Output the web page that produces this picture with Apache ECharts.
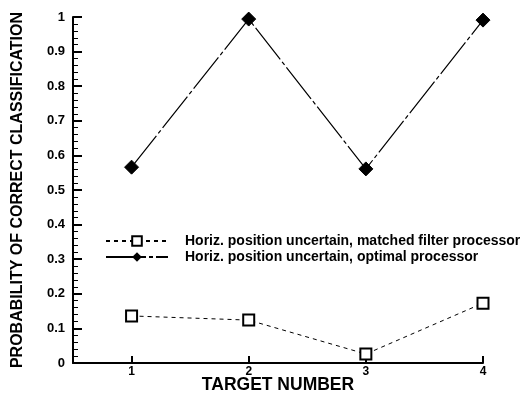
<!DOCTYPE html>
<html><head><meta charset="utf-8">
<script src="https://cdn.jsdelivr.net/npm/echarts@6/dist/echarts.min.js"></script>
<style>html,body{margin:0;padding:0;background:#fff}#c{width:521px;height:393px}</style>
</head><body><div id="c"></div>
<script>
var targets = [1, 2, 3, 4];
var matchedFilter = [0.136, 0.124, 0.026, 0.173];
var optimal = [0.566, 0.994, 0.561, 0.991];
var seriesNames = ['Horiz. position uncertain, matched filter processor', 'Horiz. position uncertain, optimal processor'];

function pairs(xs, ys){ return xs.map(function(x,i){return [x, ys[i]];}); }
var F = 'Liberation Sans, Arial, sans-serif';
var chart = echarts.init(document.getElementById('c'));
chart.setOption({
  animation:false,
  grid:{left:73, right:38, top:17, bottom:30, outerBoundsMode:'none'},
  xAxis:{
    type:'value', min:0.5, max:4,
    axisLine:{show:true, lineStyle:{color:'#000', width:2}},
    axisTick:{show:true, inside:true, length:7, lineStyle:{width:2, color:'#000'}, customValues:targets},
    axisLabel:{fontFamily:F, fontWeight:'bold', fontSize:12, color:'#000', margin:3, customValues:targets},
    splitLine:{show:false},
    name:'TARGET NUMBER', nameLocation:'middle', nameGap:13, nameMoveOverlap:false,
    nameTextStyle:{fontFamily:F, fontWeight:'bold', fontSize:17.5, color:'#000'}
  },
  yAxis:{
    type:'value', min:0, max:1, interval:0.1,
    axisLine:{show:true, lineStyle:{color:'#000', width:2}},
    axisTick:{show:true, inside:true, length:9, lineStyle:{width:2, color:'#000'}},
    minorTick:{show:true, splitNumber:5, length:5},
    axisLabel:{fontFamily:F, fontWeight:'bold', fontSize:13, color:'#000', margin:8},
    splitLine:{show:false},
    name:'PROBABILITY OF CORRECT CLASSIFICATION', nameLocation:'middle', nameGap:47, nameMoveOverlap:false,
    nameTextStyle:{fontFamily:F, fontWeight:'bold', fontSize:16, color:'#000'}
  },
  legend:{
    orient:'vertical', left:100, top:229, itemGap:2, itemWidth:62, itemHeight:12,
    textStyle:{fontFamily:F, fontWeight:'bold', fontSize:14, color:'#000', padding:[0,0,0,12]},
    data:seriesNames
  },
  series:[
    {name:seriesNames[0], type:'line', data:pairs(targets, matchedFilter),
     symbol:'rect', symbolSize:11,
     itemStyle:{color:'#fff', borderColor:'#000', borderWidth:2},
     lineStyle:{color:'#000', width:1, type:[4,4]}},
    {name:seriesNames[1], type:'line', data:pairs(targets, optimal),
     symbol:'diamond', symbolSize:14,
     itemStyle:{color:'#000', borderColor:'#000'},
     lineStyle:{color:'#000', width:1.2, type:[40,3,4,3]}}
  ]
});
</script></body></html>
